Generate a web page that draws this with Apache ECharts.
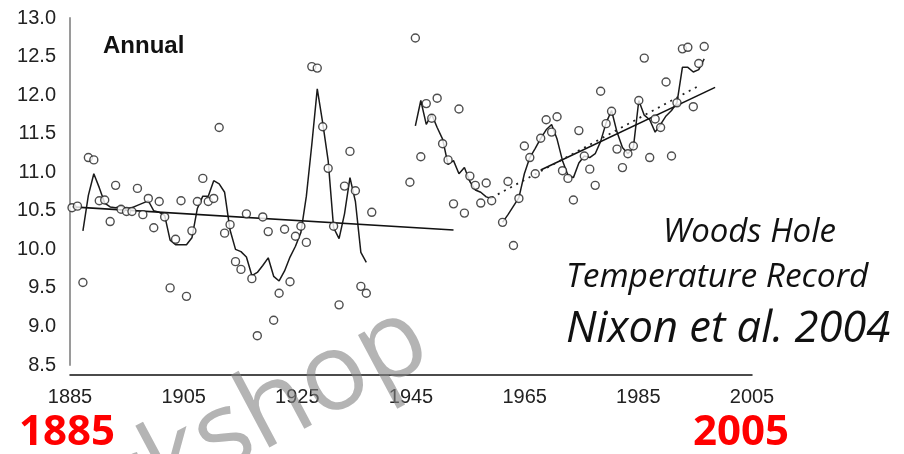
<!DOCTYPE html>
<html>
<head>
<meta charset="utf-8">
<script src="https://cdn.jsdelivr.net/npm/echarts@6.0.0/dist/echarts.min.js"></script>
<style>
html, body { margin: 0; padding: 0; background: #fff; }
#chart { width: 904px; height: 454px; }
</style>
</head>
<body>
<div id="chart"></div>
<script>
// annual mean temperature, Woods Hole (one value per year from firstYear, null = no data)
var firstYear = 1885;
var temps = [
  10.54, 10.56, 9.57, 11.19, 11.16, 10.63, 10.64, 10.36, 10.83, 10.52, // 1885
  10.49, 10.49, 10.79, 10.45, 10.66, 10.28, 10.62, 10.42, 9.50, 10.13, // 1895
  10.63, 9.39, 10.24, 10.62, 10.92, 10.62, 10.66, 11.58, 10.21, 10.32, // 1905
  9.84, 9.74, 10.46, 9.62, 8.88, 10.42, 10.23, 9.08, 9.43, 10.26,      // 1915
  9.58, 10.17, 10.30, 10.09, 12.37, 12.35, 11.59, 11.05, 10.30, 9.28,  // 1925
  10.82, 11.27, 10.76, 9.52, 9.43, 10.48, null, null, null, null,      // 1935
  null, null, 10.87, 12.74, 11.20, 11.89, 11.70, 11.96, 11.37, 11.16,  // 1945
  10.59, 11.82, 10.47, 10.95, 10.83, 10.60, 10.86, 10.63, null, 10.35, // 1955
  10.88, 10.05, 10.66, 11.34, 11.19, 10.98, 11.44, 11.68, 11.52, 11.72, // 1965
  11.02, 10.92, 10.64, 11.54, 11.21, 11.04, 10.83, 12.05, 11.63, 11.79, // 1975
  11.30, 11.06, 11.24, 11.34, 11.93, 12.48, 11.19, 11.69, 11.58, 12.17, // 1985
  11.21, 11.90, 12.60, 12.62, 11.85, 12.41, 12.63                      // 1995
];
// running mean line, same years
var runMean = [
  null, null, 10.24, 10.70, 10.98, 10.80, 10.60, 10.55, 10.54, 10.56,
  10.53, 10.54, 10.57, 10.60, 10.63, 10.50, 10.48, 10.44, 10.12, 10.06,
  10.06, 10.06, 10.15, 10.53, 10.69, 10.69, 10.89, 10.85, 10.74, 10.25,
  10.00, 9.97, 9.90, 9.66, 9.70, 9.79, 9.89, 9.65, 9.59, 9.72,
  9.90, 10.04, 10.22, 10.69, 11.36, 12.08, 11.64, 11.15, 10.28, 10.14,
  10.46, 10.93, 10.62, 9.96, 9.83, null, null, null, null, null,
  null, null, null, 11.60, 11.93, 11.62, 11.75, 11.58, 11.43, 11.10,
  11.15, 10.98, 11.06, 10.88, 10.77, 10.74, 10.68, 10.66, null, 10.35,
  10.45, 10.56, 10.67, 10.98, 11.19, 11.31, 11.44, 11.55, 11.62, 11.43,
  11.15, 10.96, 10.93, 11.12, 11.21, 11.19, 11.24, 11.40, 11.64, 11.80,
  11.52, 11.32, 11.24, 11.32, 11.93, 11.74, 11.68, 11.52, 11.62, 11.73,
  11.80, 11.90, 12.36, 12.36, 12.30, 12.33, 12.47
];
// fitted lines [year, temp]
var earlyTrend = [[1885, 10.55], [1955, 10.25]];
var lateTrend = [[1971, 11.03], [2003, 12.10]];
var dottedTrend = [[1962, 10.67], [2000, 12.12]];

var yearLabels = { min: 1885, max: 2005, step: 20 };
var tempLabels = { min: 8.5, max: 13.0, step: 0.5 };

function pairs(list) {
  var out = [];
  for (var i = 0; i < list.length; i++) {
    out.push([firstYear + i, list[i]]);
  }
  return out;
}

var myChart = echarts.init(document.getElementById("chart"));
var option = {
  backgroundColor: "#fff",
  animation: false,
  grid: { left: 70, right: 152, top: 18, bottom: 89, containLabel: false, outerBoundsMode: "none" },
  xAxis: [
    {
      // visible year scale
      type: "value",
      min: yearLabels.min,
      max: yearLabels.max,
      interval: yearLabels.step,
      offset: 10,
      axisLine: { lineStyle: { color: "#111", width: 1.5 } },
      axisTick: { show: false },
      splitLine: { show: false },
      axisLabel: {
        color: "#222",
        fontSize: 20,
        fontFamily: "Liberation Sans",
        margin: 12,
        showMinLabel: true,
        showMaxLabel: true,
        formatter: function (v) { return String(v); }
      }
    },
    {
      // the plotted points sit on a slightly tighter scale than the printed labels
      type: "value",
      show: false,
      min: 1884.63,
      max: 2009.77
    }
  ],
  yAxis: {
    type: "value",
    min: tempLabels.min,
    max: tempLabels.max,
    interval: tempLabels.step,
    axisLine: { show: true, lineStyle: { color: "#9a9a9a", width: 2 } },
    axisTick: { show: false },
    splitLine: { show: false },
    axisLabel: {
      color: "#222",
      fontSize: 20,
      fontFamily: "Liberation Sans",
      margin: 14,
      formatter: function (v) { return v.toFixed(1); }
    }
  },
  series: [
    {
      type: "line",
      xAxisIndex: 1,
      data: pairs(runMean),
      showSymbol: false,
      connectNulls: false,
      lineStyle: { color: "#1a1a1a", width: 1.5 },
      z: 2
    },
    {
      type: "line",
      xAxisIndex: 1,
      data: earlyTrend,
      showSymbol: false,
      lineStyle: { color: "#111", width: 1.6 },
      z: 2
    },
    {
      type: "line",
      xAxisIndex: 1,
      data: lateTrend,
      showSymbol: false,
      lineStyle: { color: "#111", width: 1.6 },
      z: 2
    },
    {
      type: "line",
      xAxisIndex: 1,
      data: dottedTrend,
      showSymbol: false,
      lineStyle: { color: "#222", width: 1.8, type: [2, 5] },
      z: 2
    },
    {
      type: "scatter",
      xAxisIndex: 1,
      data: pairs(temps).filter(function (d) { return d[1] !== null; }),
      symbol: "circle",
      symbolSize: 8,
      itemStyle: { color: "#fff", borderColor: "#222", borderWidth: 1.4 },
      z: 3
    }
  ],
  graphic: [
    {
      type: "text", x: 103, y: 46,
      style: { text: "Annual", fill: "#111", font: "bold 24px 'Liberation Sans'", textVerticalAlign: "middle", verticalAlign: "middle" }
    },
    {
      type: "text", x: 663, y: 233,
      style: { text: "Woods Hole", fill: "#111", font: "italic 33px 'Open Sans'", textVerticalAlign: "middle", verticalAlign: "middle" }
    },
    {
      type: "text", x: 566, y: 277,
      style: { text: "Temperature Record", fill: "#111", font: "italic 33.5px 'Open Sans'", textVerticalAlign: "middle", verticalAlign: "middle" }
    },
    {
      type: "text", x: 566, y: 330,
      style: { text: "Nixon et al. 2004", fill: "#111", font: "italic 43.5px 'Open Sans'", textVerticalAlign: "middle", verticalAlign: "middle" }
    },
    {
      type: "text", x: 67, y: 433,
      style: { text: "1885", fill: "#ff0000", font: "bold 42px 'Open Sans'", textAlign: "center", align: "center", textVerticalAlign: "middle", verticalAlign: "middle" }
    },
    {
      type: "text", x: 741, y: 433,
      style: { text: "2005", fill: "#ff0000", font: "bold 42px 'Open Sans'", textAlign: "center", align: "center", textVerticalAlign: "middle", verticalAlign: "middle" }
    },
    {
      type: "text", x: 421, y: 332, rotation: 28 * Math.PI / 180, z: 10,
      style: { text: "Workshop", fill: "rgba(130,130,130,0.6)", font: "108px 'Open Sans'", textAlign: "right", align: "right", textVerticalAlign: "middle", verticalAlign: "middle" }
    }
  ]
};
myChart.setOption(option);
window.onresize = function () {
  myChart ? myChart.resize() : "";
};
</script>
</body>
</html>
